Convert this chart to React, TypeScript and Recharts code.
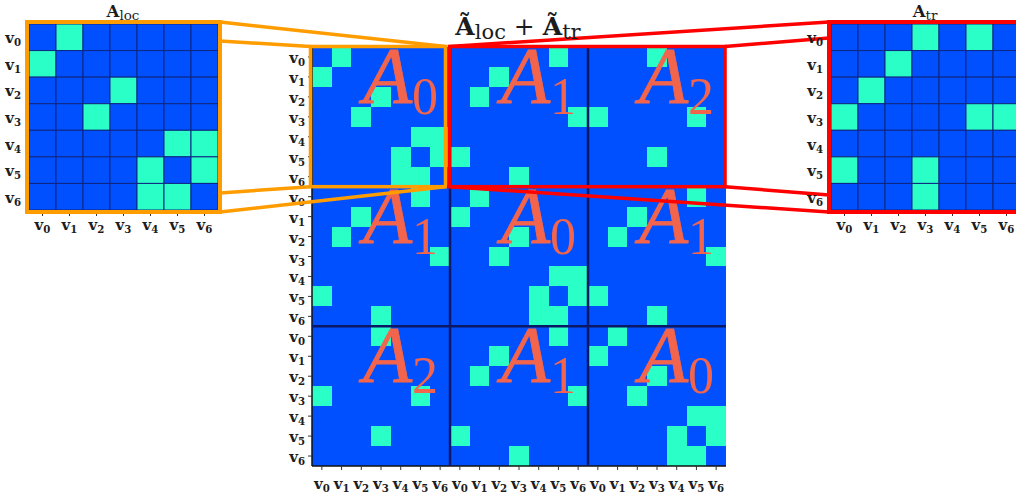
import React from "react";
import { ScatterChart, Scatter, XAxis, YAxis, ReferenceArea, ReferenceLine } from "recharts";

const BLUE = "#0050ff";
const CYAN = "#2affc7";
const CELL_LINE = "#0d2680";
const BLOCK_LINE = "#0a1866";
const ORANGE = "#ff9c00";
const RED = "#ff0000";
const CORAL = "#f2654c";
const INK = "#1c1c1c";
const SERIF = "'DejaVu Serif', serif";
const MATH = "'Liberation Serif', serif";
const TOP = 3000;

// node ids, used for the v_i tick labels
const NODES = [0, 1, 2, 3, 4, 5, 6];

// non-zero entries [row, col] of the three 7x7 blocks
const A0_EDGES = [[0, 1], [1, 0], [2, 3], [3, 2], [4, 5], [4, 6], [5, 4], [5, 6], [6, 4], [6, 5]];
const A1_EDGES = [[0, 5], [1, 2], [2, 1], [3, 6], [5, 0], [6, 3]];
const A2_EDGES = [[0, 3], [3, 0], [3, 5], [5, 3]];

// the two insets
const A_LOC_EDGES = [[0, 1], [1, 0], [2, 3], [3, 2], [4, 5], [4, 6], [5, 4], [5, 6], [6, 4], [6, 5]];
const A_TR_EDGES = [[0, 3], [0, 5], [1, 2], [2, 1], [3, 0], [3, 5], [3, 6], [5, 0], [5, 3], [6, 3]];

// block index at (block row, block col) of the 21x21 matrix
const BLOCK_LAYOUT = [[0, 1, 2], [1, 0, 1], [2, 1, 0]];
const BLOCK_EDGES = [A0_EDGES, A1_EDGES, A2_EDGES];

type Cell = { x: number; y: number; on: boolean };
type Plot = { x: number; y: number; w: number; h: number };

const toCells = (n: number, edges: number[][]): Cell[] => {
  const on = new Set(edges.map(([r, c]) => r * n + c));
  const out: Cell[] = [];
  for (let r = 0; r < n; r++)
    for (let c = 0; c < n; c++) out.push({ x: c + 0.5, y: r + 0.5, on: on.has(r * n + c) });
  return out;
};

const bigEdges: number[][] = [];
BLOCK_LAYOUT.forEach((row, bi) =>
  row.forEach((k, bj) => BLOCK_EDGES[k].forEach(([r, c]) => bigEdges.push([bi * 7 + r, bj * 7 + c])))
);

const locCells = toCells(7, A_LOC_EDGES);
const trCells = toCells(7, A_TR_EDGES);
const bigCells = toCells(21, bigEdges);

const smallTicks = NODES.map((i) => i + 0.5);
const bigTicks = [0, 1, 2].flatMap((b) => NODES.map((i) => b * 7 + i + 0.5));

// plot areas in page pixels
const L_PLOT: Plot = { x: 29, y: 24, w: 189, h: 186 };
const R_PLOT: Plot = { x: 831, y: 24, w: 189, h: 186 };
const C_PLOT: Plot = { x: 312, y: 47, w: 414, h: 419 };

const BW = C_PLOT.w / 3;
const BH = C_PLOT.h / 3;
const ORANGE_BOX = { l: C_PLOT.x - 1.5, r: C_PLOT.x + BW - 4.5, t: C_PLOT.y - 0.5, b: C_PLOT.y + BH };
const RED_BOX = { l: C_PLOT.x + BW - 0.5, r: C_PLOT.x + C_PLOT.w - 1, t: C_PLOT.y - 0.5, b: C_PLOT.y + BH };
const LX = L_PLOT.x + L_PLOT.w + 2;
const RX = R_PLOT.x - 2;
const LINKS = [
  { c: ORANGE, x1: ORANGE_BOX.r, y1: ORANGE_BOX.t, x2: LX, y2: L_PLOT.y - 2 },
  { c: ORANGE, x1: ORANGE_BOX.l, y1: ORANGE_BOX.t, x2: LX, y2: L_PLOT.y + 17 },
  { c: ORANGE, x1: ORANGE_BOX.l, y1: ORANGE_BOX.b, x2: LX, y2: L_PLOT.y + L_PLOT.h - 17 },
  { c: ORANGE, x1: ORANGE_BOX.r, y1: ORANGE_BOX.b, x2: LX, y2: L_PLOT.y + L_PLOT.h + 2 },
  { c: RED, x1: RED_BOX.l, y1: RED_BOX.t, x2: RX, y2: R_PLOT.y - 2 },
  { c: RED, x1: RED_BOX.r, y1: RED_BOX.t, x2: RX, y2: R_PLOT.y + 14 },
  { c: RED, x1: RED_BOX.r, y1: RED_BOX.b, x2: RX, y2: R_PLOT.y + R_PLOT.h - 15 },
  { c: RED, x1: RED_BOX.l, y1: RED_BOX.b, x2: RX, y2: R_PLOT.y + R_PLOT.h + 2 },
];

function VTick(props: any) {
  const { x, y, payload, side, fs, off } = props;
  const i = NODES[Math.floor(payload.value) % NODES.length];
  return (
    <text
      x={x}
      y={y + off}
      textAnchor={side === "x" ? "middle" : "end"}
      fontFamily={SERIF}
      fontWeight="bold"
      fontSize={fs}
      fill={INK}
    >
      v<tspan fontSize={fs * 0.68} dy={3}>{i}</tspan>
    </text>
  );
}

function BlockLabel(props: any) {
  const { viewBox, k } = props;
  if (!viewBox) return null;
  return (
    <text x={viewBox.x + viewBox.width - 12} y={viewBox.y + 56} textAnchor="end" fill={CORAL} fontFamily={MATH}>
      <tspan fontStyle="italic" fontSize={80} stroke={CORAL} strokeWidth={0.8}>A</tspan>
      <tspan fontSize={52} dy={11}>{k}</tspan>
    </text>
  );
}

function MatrixChart(props: {
  left: number;
  top: number;
  width: number;
  height: number;
  plot: Plot;
  n: number;
  cells: Cell[];
  ticks: number[];
  grid: boolean;
  axis: boolean;
  xTick: number;
  xOff: number;
  yMargin: number;
  z: number;
  children?: React.ReactNode;
}) {
  const { left, top, width, height, plot, n, cells, ticks } = props;
  const cw = plot.w / n;
  const ch = plot.h / n;
  const margin = { top: plot.y - top, right: left + width - (plot.x + plot.w), left: 0, bottom: 0 };
  const shape = (p: any) => (
    <rect
      x={p.cx - cw / 2}
      y={p.cy - ch / 2}
      width={cw}
      height={ch}
      fill={p.payload.on ? CYAN : BLUE}
      stroke={props.grid ? CELL_LINE : "none"}
      strokeWidth={props.grid ? 1 : 0}
      shapeRendering={props.grid ? undefined : "crispEdges"}
    />
  );
  const axisLine = props.axis ? { stroke: "#111", strokeWidth: 1.5 } : false;
  return (
    <div style={{ position: "absolute", left, top, zIndex: props.z }}>
      <ScatterChart width={width} height={height} margin={margin}>
        <XAxis
          type="number"
          dataKey="x"
          domain={[0, n]}
          ticks={ticks}
          interval={0}
          allowDataOverflow
          height={top + height - (plot.y + plot.h)}
          tickSize={props.xTick}
          tickMargin={0}
          axisLine={axisLine}
          tickLine={{ stroke: "#333" }}
          tick={<VTick side="x" fs={15} off={props.xOff} />}
        />
        <YAxis
          type="number"
          dataKey="y"
          domain={[0, n]}
          reversed
          ticks={ticks}
          interval={0}
          allowDataOverflow
          width={plot.x - left}
          tickSize={4}
          tickMargin={props.yMargin}
          axisLine={axisLine}
          tickLine={{ stroke: "#333" }}
          tick={<VTick side="y" fs={15} off={6} />}
        />
        <Scatter data={cells} shape={shape} isAnimationActive={false} zIndex={0} />
        {props.children}
      </ScatterChart>
    </div>
  );
}

const insetFrame = (color: string) => (p: any) => (
  <rect x={p.x - 2} y={p.y - 2} width={p.width + 4} height={p.height + 4} fill="none" stroke={color} strokeWidth={4} />
);

export default function App() {
  return (
    <div
      style={{
        position: "absolute",
        left: 0,
        top: 0,
        width: 1016,
        height: 500,
        overflow: "hidden",
        background: "#fff",
      }}
    >
      <MatrixChart
        left={280}
        top={40}
        width={460}
        height={460}
        plot={C_PLOT}
        n={21}
        cells={bigCells}
        ticks={bigTicks}
        grid={false}
        axis={true}
        xTick={4}
        xOff={19}
        yMargin={3}
        z={1}
      >
        {[7, 14].map((v) => (
          <ReferenceLine key={`vx${v}`} x={v} stroke={BLOCK_LINE} strokeWidth={2.5} zIndex={TOP} />
        ))}
        {[7, 14].map((v) => (
          <ReferenceLine key={`hy${v}`} y={v} stroke={BLOCK_LINE} strokeWidth={2.5} zIndex={TOP} />
        ))}
        {BLOCK_LAYOUT.flatMap((row, bi) =>
          row.map((k, bj) => (
            <ReferenceArea
              key={`b${bi}${bj}`}
              x1={bj * 7}
              x2={bj * 7 + 7}
              y1={bi * 7}
              y2={bi * 7 + 7}
              fill="none"
              fillOpacity={0}
              stroke="none"
              zIndex={TOP + 10}
              label={<BlockLabel k={k} />}
            />
          ))
        )}
        <ReferenceArea
          x1={0}
          x2={7}
          y1={0}
          y2={7}
          zIndex={TOP + 20}
          shape={(p: any) => (
            <rect x={p.x - 1.5} y={p.y - 0.5} width={p.width - 3} height={p.height + 0.5} fill="none" stroke={ORANGE} strokeWidth={3.5} />
          )}
        />
        <ReferenceArea
          x1={7}
          x2={21}
          y1={0}
          y2={7}
          zIndex={TOP + 20}
          shape={(p: any) => (
            <rect x={p.x - 0.5} y={p.y - 0.5} width={p.width - 0.5} height={p.height + 0.5} fill="none" stroke={RED} strokeWidth={3.5} />
          )}
        />
      </MatrixChart>

      <svg width={1016} height={500} style={{ position: "absolute", left: 0, top: 0, zIndex: 2, pointerEvents: "none" }}>
        {LINKS.map((l, i) => (
          <line key={i} x1={l.x1} y1={l.y1} x2={l.x2} y2={l.y2} stroke={l.c} strokeWidth={3.5} />
        ))}
        <text x={123} y={17} textAnchor="middle" fontFamily={SERIF} fill={INK}>
          <tspan fontWeight="bold" fontSize={16.5}>A</tspan>
          <tspan fontSize={13.5} dy={3}>loc</tspan>
        </text>
        <text x={925} y={17} textAnchor="middle" fontFamily={SERIF} fill={INK}>
          <tspan fontWeight="bold" fontSize={16.5}>A</tspan>
          <tspan fontSize={13.5} dy={3}>tr</tspan>
        </text>
        <text x={518} y={35} textAnchor="middle" fontFamily={SERIF} fill={INK}>
          <tspan fontWeight="bold" fontSize={25}>Ã</tspan>
          <tspan fontSize={21} dy={4}>loc</tspan>
          <tspan fontSize={25} dy={-4}> + </tspan>
          <tspan fontWeight="bold" fontSize={25}>Ã</tspan>
          <tspan fontSize={21} dy={4}>tr</tspan>
        </text>
      </svg>

      <MatrixChart
        left={0}
        top={0}
        width={240}
        height={240}
        plot={L_PLOT}
        n={7}
        cells={locCells}
        ticks={smallTicks}
        grid={true}
        axis={false}
        xTick={6}
        xOff={14}
        yMargin={4}
        z={3}
      >
        <ReferenceArea x1={0} x2={7} y1={0} y2={7} zIndex={TOP} shape={insetFrame(ORANGE)} />
      </MatrixChart>

      <MatrixChart
        left={800}
        top={0}
        width={240}
        height={240}
        plot={R_PLOT}
        n={7}
        cells={trCells}
        ticks={smallTicks}
        grid={true}
        axis={false}
        xTick={6}
        xOff={14}
        yMargin={4}
        z={3}
      >
        <ReferenceArea x1={0} x2={7} y1={0} y2={7} zIndex={TOP} shape={insetFrame(RED)} />
      </MatrixChart>
    </div>
  );
}
